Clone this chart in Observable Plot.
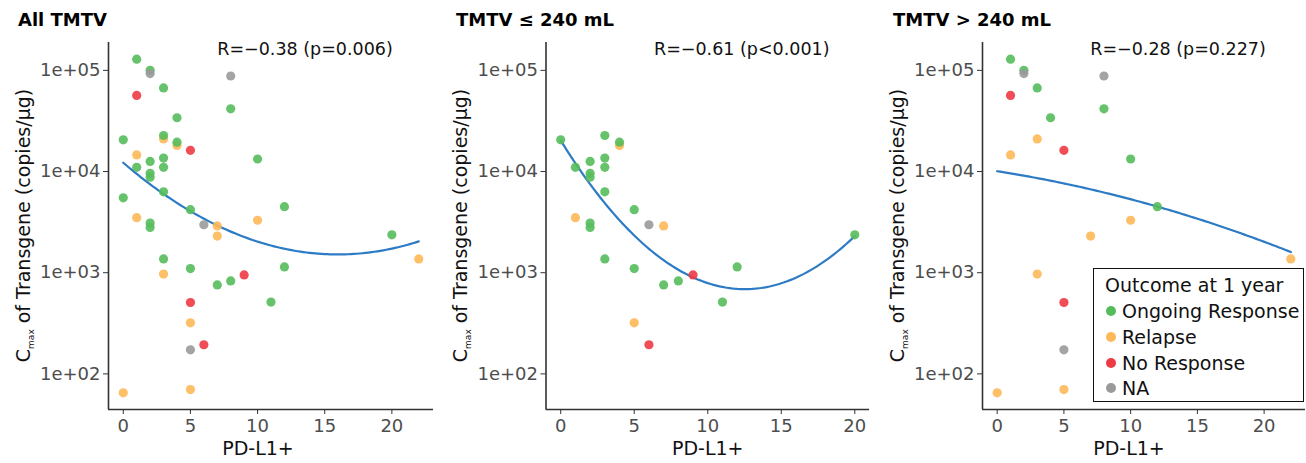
<!DOCTYPE html>
<html><head><meta charset="utf-8">
<script src="https://cdn.jsdelivr.net/npm/d3@7"></script>
<script src="https://cdn.jsdelivr.net/npm/@observablehq/plot@0.6"></script>
<style>
body{margin:0;background:#fff;font-family:"DejaVu Sans",sans-serif;}
#root{position:relative;width:1306px;height:463px;overflow:hidden;background:#fff;}
.title{position:absolute;top:9px;font-weight:bold;font-size:18px;color:#000;line-height:22px;white-space:nowrap;}
.panel{position:absolute;top:30px;}
#legend{position:absolute;left:1093px;top:268px;width:209px;height:132px;border:1.5px solid #111;background:#fff;font-size:19px;color:#111;}
#legend .lt{position:absolute;left:11px;top:5px;white-space:nowrap;}
#legend .it{position:absolute;left:0;height:24px;width:100%;}
#legend .dot{position:absolute;left:12px;top:7px;width:10px;height:10px;border-radius:50%;}
#legend .lab{position:absolute;left:28px;top:0;line-height:24px;white-space:nowrap;}
</style></head><body><div id="root"></div>
<script>
// ---- labels & categories ----
const panelTitles = ["All TMTV", "TMTV \u2264 240 mL", "TMTV > 240 mL"];
const corrLabels = ["R=\u22120.38 (p=0.006)", "R=\u22120.61 (p<0.001)", "R=\u22120.28 (p=0.227)"];
const outcomes = ["Ongoing Response", "Relapse", "No Response", "NA"];
const outcomeColors = ["#55BC5C", "#FDB857", "#EE3A44", "#9A9A9A"];
const legendTitle = "Outcome at 1 year";
const xLabel = "PD-L1+";
const xTicks = [0, 5, 10, 15, 20];
const yTicks = [100, 1000, 10000, 100000];
const yTickLabels = ["1e+02", "1e+03", "1e+04", "1e+05"];

// ---- TMTV <= 240 mL (G=Ongoing Response, R=Relapse, N=No Response, A=NA) ----
const lowPDL1 = [0, 1, 1, 2, 2, 2, 2, 2, 3, 3, 3, 3, 3, 4, 4, 5, 5, 5, 6, 6, 7, 7, 8, 9, 11, 12, 20];
const lowCmax = [20600, 11000, 3500, 12600, 9600, 8800, 3100, 2800, 22700, 13600, 11000, 6300, 1370, 19500, 18100, 4200, 1100, 320, 2980, 194, 2900, 757, 830, 950, 513, 1140, 2370];
const lowOutcome = ["G","G","R","G","G","G","G","G","G","G","G","G","G","G","R","G","G","R","A","N","R","G","G","N","G","G","G"];

// ---- TMTV > 240 mL ----
const highPDL1 = [0, 1, 1, 1, 2, 2, 3, 3, 3, 4, 5, 5, 5, 5, 7, 8, 8, 10, 10, 12, 22];
const highCmax = [65, 129000, 56500, 14600, 100000, 93000, 67000, 21000, 970, 34000, 16200, 508, 173, 70, 2300, 88000, 41700, 13300, 3300, 4500, 1370];
const highOutcome = ["R","G","N","R","G","A","G","R","R","G","N","N","A","R","R","A","G","G","R","G","R"];

// ---- patients shown only in the "All" panel ----
const otherPDL1 = [0];
const otherCmax = [5500];
const otherOutcome = ["G"];

const codeToOutcome = {G: "Ongoing Response", R: "Relapse", N: "No Response", A: "NA"};
const drawOrder = {R: 0, N: 1, G: 2, A: 3};

function rows(xs, ys, os) {
  return xs.map((x, i) => ({x, y: ys[i], o: codeToOutcome[os[i]], k: drawOrder[os[i]]}));
}
const low = rows(lowPDL1, lowCmax, lowOutcome);
const high = rows(highPDL1, highCmax, highOutcome);
const other = rows(otherPDL1, otherCmax, otherOutcome);
const all = [...low, ...high, ...other];

// quadratic least-squares fit of log10(y) on x (like geom_smooth(method="lm", formula=y~poly(x,2)))
function quadFit(data) {
  const S = [0,0,0,0,0], T = [0,0,0];
  for (const d of data) {
    const ly = Math.log10(d.y);
    let p = 1;
    for (let k = 0; k < 5; k++) { S[k] += p; if (k < 3) T[k] += p * ly; p *= d.x; }
  }
  const A = [[S[0],S[1],S[2],T[0]],[S[1],S[2],S[3],T[1]],[S[2],S[3],S[4],T[2]]];
  for (let i = 0; i < 3; i++) {
    let m = i; for (let r = i+1; r < 3; r++) if (Math.abs(A[r][i]) > Math.abs(A[m][i])) m = r;
    [A[i], A[m]] = [A[m], A[i]];
    for (let r = 0; r < 3; r++) if (r !== i) {
      const f = A[r][i] / A[i][i];
      for (let c = i; c < 4; c++) A[r][c] -= f * A[i][c];
    }
  }
  const c = A.map((row, i) => row[3] / row[i]);
  const [x0, x1] = d3.extent(data, d => d.x);
  const n = 100;
  return d3.range(n + 1).map(i => {
    const x = x0 + (x1 - x0) * i / n;
    return {x, y: Math.pow(10, c[0] + c[1]*x + c[2]*x*x)};
  });
}

// y domain shared by all panels (ggplot 5% expansion on log scale)
const [lyMin, lyMax] = d3.extent(all, d => Math.log10(d.y));
const lyPad = (lyMax - lyMin) * 0.05;
const yDomain = [Math.pow(10, lyMin - lyPad), Math.pow(10, lyMax + lyPad)];

const layout = [
  {left: 0,   width: 436, mL: 108,   mR: 3, titleLeft: 18,  labelDx: -13},
  {left: 436, width: 436, mL: 109.5, mR: 3, titleLeft: 456, labelDx: 0},
  {left: 872, width: 434, mL: 110,   mR: 1, titleLeft: 893, labelDx: -15}
];
const panelData = [all, low, high];

const root = document.getElementById("root");
const H = 433, mT = 12, mB = 54;

panelData.forEach((data, p) => {
  const L = layout[p];
  const [xa, xb] = d3.extent(data, d => d.x);
  const xPad = (xb - xa) * 0.05;
  const xDomain = [xa - xPad, xb + xPad];
  const fit = quadFit(data);
  const sorted = data.slice().sort((a, b) => a.k - b.k);

  const t = document.createElement("div");
  t.className = "title"; t.style.left = L.titleLeft + "px"; t.textContent = panelTitles[p];
  root.appendChild(t);

  const chart = Plot.plot({
    width: L.width, height: H,
    marginTop: mT, marginBottom: mB, marginLeft: L.mL, marginRight: L.mR,
    style: {fontFamily: "DejaVu Sans", fontSize: "18px", background: "transparent", overflow: "visible", color: "#4d4d4d"},
    x: {domain: xDomain},
    y: {type: "log", domain: yDomain},
    color: {domain: outcomes, range: outcomeColors},
    marks: [
      Plot.axisY({ticks: yTicks, tickFormat: d => yTickLabels[yTicks.indexOf(d)], tickSize: 5, tickPadding: 3, label: null, stroke: "#333", fill: "#4d4d4d"}),
      Plot.axisX({ticks: xTicks, tickSize: 5, tickPadding: 5, label: null, stroke: "#333", fill: "#4d4d4d"}),
      Plot.ruleX([xDomain[0]], {stroke: "#333", strokeWidth: 1.6}),
      Plot.ruleY([yDomain[0]], {stroke: "#333", strokeWidth: 1.6}),
      Plot.line(fit, {x: "x", y: "y", stroke: "#2C7BC4", strokeWidth: 2.2}),
      Plot.dot(sorted, {x: "x", y: "y", fill: "o", r: 4.6, fillOpacity: 0.9}),
      Plot.text([corrLabels[p]], {frameAnchor: "top", dx: 34, dy: 7, lineAnchor: "middle", fontSize: 17.5, fill: "#111"}),
      Plot.text([xLabel], {frameAnchor: "bottom", dx: L.labelDx, dy: 39, lineAnchor: "middle", fontSize: 19, fill: "#111"})
    ]
  });
  chart.classList.add("panel");
  chart.style.left = L.left + "px";
  root.appendChild(chart);

  // y axis title with subscript
  const cy = (mT + (H - mB)) / 2;
  const yt = d3.select(chart).append("text")
    .attr("transform", `translate(${L.mL - 85},${cy}) rotate(-90)`)
    .attr("text-anchor", "middle")
    .attr("y", 6.5)
    .attr("fill", "#111")
    .style("font-size", "19px");
  yt.append("tspan").text("C");
  yt.append("tspan").attr("dy", 4).style("font-size", "9px").text("max");
  yt.append("tspan").attr("dy", -4).text(" of Transgene (copies/\u03bcg)");
});

// legend
const lg = document.createElement("div");
lg.id = "legend";
const lt = document.createElement("div");
lt.className = "lt"; lt.textContent = legendTitle; lg.appendChild(lt);
outcomes.forEach((o, i) => {
  const it = document.createElement("div");
  it.className = "it"; it.style.top = (30 + i * 25.8) + "px";
  const dot = document.createElement("div");
  dot.className = "dot"; dot.style.background = outcomeColors[i];
  const lab = document.createElement("div");
  lab.className = "lab"; lab.textContent = o;
  it.appendChild(dot); it.appendChild(lab); lg.appendChild(it);
});
root.appendChild(lg);
</script></body></html>
